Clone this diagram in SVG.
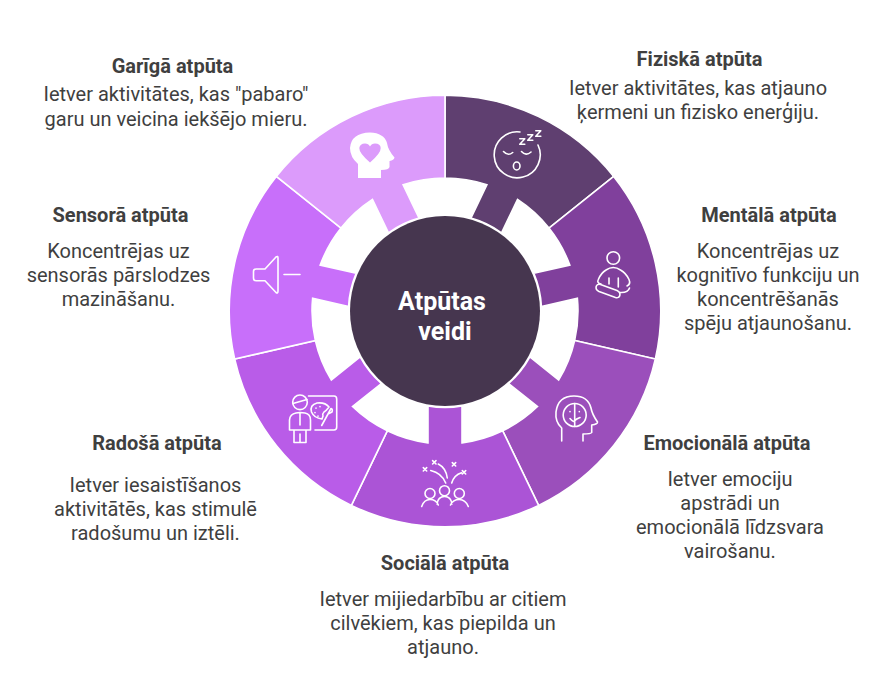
<svg xmlns="http://www.w3.org/2000/svg" width="888" height="687" viewBox="0 0 888 687">
<style>
text{font-family:Roboto,"Liberation Sans",sans-serif;text-anchor:middle;fill:#3f3f3f}
.t{font-size:20px;font-weight:700}
.b{font-size:20px}
.c{font-size:25px;font-weight:700;fill:#fff}
.seg{stroke:#fff;stroke-width:1.6;stroke-linejoin:miter}
.i{fill:none;stroke:#fff;stroke-width:1.6;stroke-linecap:round;stroke-linejoin:round}
</style>
<defs>
<path id="sector" d="M-93.6-194.4A215.8 215.8 0 0 1 93.6-194.4L57.7-119.8A133 133 0 0 0 17-131.9L17-95A96.5 96.5 0 0 0-17-95L-17-131.9A133 133 0 0 0-57.7-119.8Z"/>
</defs>
<rect width="888" height="687" fill="#fff"/>
<g id="node-fiziska">
<use href="#sector" class="seg" fill="#5f3f70" transform="translate(445 311) rotate(25.714)"/>
<path class="i" d="M520 132A23 23 0 1 0 538 145"/>
<path class="i" d="M519.800 138.800h5l-5 5.500h5M527.800 134.800h5l-5 5.500h5M535.800 130.800h5l-5 5.500h5M503.500 151.500Q508 156.500 512.700 152.500M521.500 151.500Q526 156.500 531 152"/>
<ellipse class="i" cx="516.700" cy="166" rx="3.300" ry="4"/>
<text class="t" x="699.500" y="66">Fiziskā atpūta</text>
<text class="b" x="698" y="95">Ietver aktivitātes, kas atjauno</text>
<text class="b" x="698" y="119">ķermeni un fizisko enerģiju.</text>
</g>
<g id="node-mentala">
<use href="#sector" class="seg" fill="#80409c" transform="translate(445 311) rotate(77.143)"/>
<circle class="i" cx="613.300" cy="258" r="6.300"/>
<path class="i" d="M601 284Q596.500 283 598.300 279.500Q601 273 606 270Q613.300 265 620.500 270Q626 273 629 279.500Q631 284 627 286M609 278V284M618.300 278V287M620 292.500Q628 293 629.500 288M600.500 284.500L617 290.500C622 293 620 299 615.500 297.500L599 291.500C594 289 596 283 600.500 284.500Z"/>
<text class="t" x="769" y="222">Mentālā atpūta</text>
<text class="b" x="768" y="258">Koncentrējas uz</text>
<text class="b" x="768" y="282">kognitīvo funkciju un</text>
<text class="b" x="768" y="306">koncentrēšanās</text>
<text class="b" x="768" y="330">spēju atjaunošanu.</text>
</g>
<g id="node-emocionala">
<use href="#sector" class="seg" fill="#9b4fbb" transform="translate(445 311) rotate(128.571)"/>
<path class="i" d="M561.700 441V428Q555 422 556 412Q558 396 574 396Q588 396 591 408Q592 414 597.500 422Q598 424 591.700 425V432.500Q591 434 583 434V441"/>
<circle class="i" cx="574.700" cy="415" r="11.500"/>
<path class="i" d="M574.700 403.500V426.500M570 411.500V411.800M579.300 411.500V411.800M570 418.500Q574 423 575 420.500Q576 419 580 417.500"/>
<text class="t" x="727" y="450">Emocionālā atpūta</text>
<text class="b" x="730" y="486">Ietver emociju</text>
<text class="b" x="730" y="510">apstrādi un</text>
<text class="b" x="730" y="534">emocionālā līdzsvara</text>
<text class="b" x="730" y="558">vairošanu.</text>
</g>
<g id="node-sociala">
<use href="#sector" class="seg" fill="#ab54d6" transform="translate(445 311) rotate(180)"/>
<circle class="i" cx="430" cy="493.500" r="5"/><circle class="i" cx="444.500" cy="490.700" r="5"/><circle class="i" cx="459.300" cy="493.500" r="5"/>
<path class="i" d="M421.700 506.500Q424 499.500 430 499.500Q436 499.500 438.300 505M437 504Q438 496.500 444.500 496.500Q451 496.500 452 504M450.500 505Q453 499.500 459.300 499.500Q465.500 499.500 468.300 506.500"/>
<path class="i" d="M430.700 470.500Q441.700 473 445.700 483M438.300 464Q446 468 447.300 478M451.700 483Q454 475 461.500 472.700M423.300 467.600L426.700 471M426.700 467.600L423.300 471M432.600 460.600L436 464M436 460.600L432.600 464M452.300 462.600L455.700 466M455.700 462.600L452.300 466M462.300 470.600L465.700 474M465.700 470.600L462.300 474"/>
<text class="t" x="445" y="570">Sociālā atpūta</text>
<text class="b" x="443" y="605.500">Ietver mijiedarbību ar citiem</text>
<text class="b" x="443" y="629.500">cilvēkiem, kas piepilda un</text>
<text class="b" x="443" y="654">atjauno.</text>
</g>
<g id="node-radosa">
<use href="#sector" class="seg" fill="#b95ce8" transform="translate(445 311) rotate(231.429)"/>
<circle class="i" cx="300" cy="402.300" r="7.300"/>
<path class="i" d="M293 403.500L307 399.500M308.500 396H334Q336.700 396 336.700 399V427Q336.700 430 334 430H315M289.500 430V420Q290 414 296 413L300 412.500L305 413Q310.500 414 310.500 420V430ZM294 430V442.500H306V430M300 434V442.500M300 412.500V425"/>
<path class="i" d="M322 419Q314 418 311.500 412Q309.500 405 317 403Q325 402 329 407Q326 411 324 412Q322 414 323 416ZM321.700 425.500L328 414M328 414L331 408.500Q333 409 332 412Z"/>
<path class="i" d="M316 408V408.200M320 406.500V406.700M315 412.500V412.700M318 416V416.200"/>
<text class="t" x="157" y="450">Radošā atpūta</text>
<text class="b" x="155.500" y="492">Ietver iesaistīšanos</text>
<text class="b" x="155.500" y="516">aktivitātēs, kas stimulē</text>
<text class="b" x="155.500" y="540">radošumu un iztēli.</text>
</g>
<g id="node-sensora">
<use href="#sector" class="seg" fill="#c86ffa" transform="translate(445 311) rotate(282.857)"/>
<path class="i" d="M265 269H256Q253.500 269 253.500 271.500V278Q253.500 280.700 256 280.700H265L276 292.500Q278 294 278 291V258Q278 255.500 276 257ZM284 274.500H300"/>
<text class="t" x="120.500" y="222">Sensorā atpūta</text>
<text class="b" x="118.500" y="258">Koncentrējas uz</text>
<text class="b" x="118.500" y="282">sensorās pārslodzes</text>
<text class="b" x="118.500" y="306">mazināšanu.</text>
</g>
<g id="node-gariga">
<use href="#sector" class="seg" fill="#dc9bfb" transform="translate(445 311) rotate(334.286)"/>
<path fill="#fff" d="M358 178V164Q350 157 350 148Q351 133 370 132.500Q384 133 387 143Q388 150 394.500 157.500Q394 160 389.500 161V167Q389 170 381 170V178Z"/>
<path fill="#dc9bfb" d="M370 162.500Q359 153 359.300 148Q360 143.500 365 143.500Q368.500 143.500 370 146.500Q371.500 143.500 375 143.500Q380.500 143.500 380.700 148Q381 153 370 162.500Z"/>
<text class="t" x="172.500" y="73">Garīgā atpūta</text>
<text class="b" x="176" y="100.500">Ietver aktivitātes, kas "pabaro"</text>
<text class="b" x="176" y="125.500">garu un veicina iekšējo mieru.</text>
</g>
<g id="node-center">
<circle cx="445" cy="311" r="95" fill="#46364f"/>
<text class="c" x="442" y="310">Atpūtas</text>
<text class="c" x="445" y="340">veidi</text>
</g>
</svg>
